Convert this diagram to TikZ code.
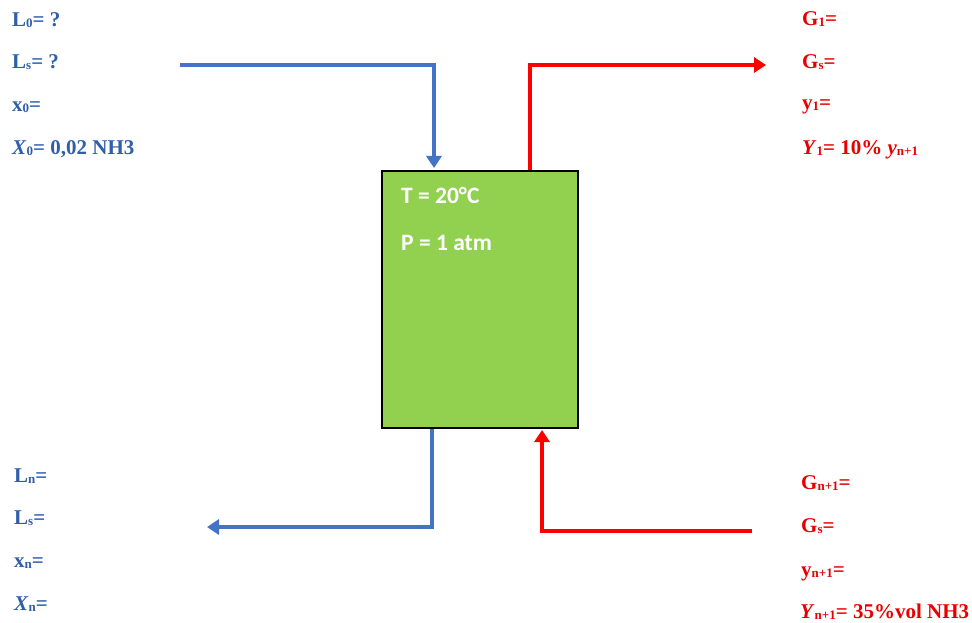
\documentclass[tikz,border=0pt]{standalone}
\usepackage{fontspec}
\setmainfont{Liberation Serif}
\newfontfamily\boxfont{Carlito}
\usetikzlibrary{arrows.meta}
\definecolor{pipeblue}{HTML}{4472C4}
\definecolor{textblue}{HTML}{2E5FA8}
\definecolor{pipered}{HTML}{FF0000}
\definecolor{textred}{HTML}{E80000}
\definecolor{boxgreen}{HTML}{92D050}
\newcommand{\sbs}[1]{\raisebox{-1pt}{\fontsize{13}{13}\selectfont #1}}
\begin{document}
\begin{tikzpicture}[x=1pt,y=-1pt,
  lbl/.style={anchor=base west, inner sep=0pt, font=\fontsize{21}{24}\selectfont\bfseries},
  lblue/.style={lbl, text=textblue},
  lred/.style={lbl, text=textred},
  boxtxt/.style={anchor=base west, inner sep=0pt, text=white, font=\boxfont\fontsize{23.5}{26}\selectfont\bfseries},
  pipe/.style={line width=3.6pt, -{Triangle[length=12pt,width=15pt]}},
  bluepipe/.style={pipe, draw=pipeblue},
  redpipe/.style={pipe, draw=pipered}]
\useasboundingbox (0,0) rectangle (972,623);

\node[draw=black, line width=2pt, fill=boxgreen, minimum width=196pt, minimum height=257pt, inner sep=0pt] (box) at (480,299.5) {};
\node[boxtxt] (temp) at (401,203) {T = 20°C};
\node[boxtxt] (pres) at (401,250) {P = 1 atm};

% top left
\node[lblue] (l0) at (12,27) {L\sbs{0}= ?};
\node[lblue] (ls0) at (12,69) {L\sbs{s}= ?};
\node[lblue] (x0) at (12,112) {x\sbs{0}=};
\node[lblue] (X0) at (12,155) {\textit{X}\sbs{0}= 0,02 NH3};

% top right
\node[lred] (g1) at (802,26) {G\sbs{1}=};
\node[lred] (gs1) at (802,69) {G\sbs{s}=};
\node[lred] (y1) at (802,110) {y\sbs{1}=};
\node[lred] (Y1) at (802,155) {\textit{Y}\sbs{1}= 10\% \textit{y}\sbs{n+1}};

% bottom left
\node[lblue] (ln) at (14,482) {L\sbs{n}=};
\node[lblue] (lsn) at (14,524) {L\sbs{s}=};
\node[lblue] (xn) at (14,567) {x\sbs{n}=};
\node[lblue] (Xn) at (14,610) {\textit{X}\sbs{n}=};

% bottom right
\node[lred] (gn) at (801,489) {G\sbs{n+1}=};
\node[lred] (gsn) at (801,532) {G\sbs{s}=};
\node[lred] (yn) at (801,576) {y\sbs{n+1}=};
\node[lred] (Yn) at (800,618) {\textit{Y}\sbs{n+1}= 35\%vol NH3};

% connectors
\coordinate (inL) at (180,65);
\coordinate (outR) at (766,65);
\coordinate (outL) at (207,527);
\coordinate (inR) at (752,531);
\draw[bluepipe, shorten >=2pt] (inL) -| ([xshift=-46pt]box.north);
\draw[redpipe] ([xshift=50pt]box.north) |- (outR);
\draw[bluepipe] ([xshift=-48pt]box.south) |- (outL);
\draw[redpipe, shorten >=1pt] (inR) -| ([xshift=62pt]box.south);
\end{tikzpicture}
\end{document}
